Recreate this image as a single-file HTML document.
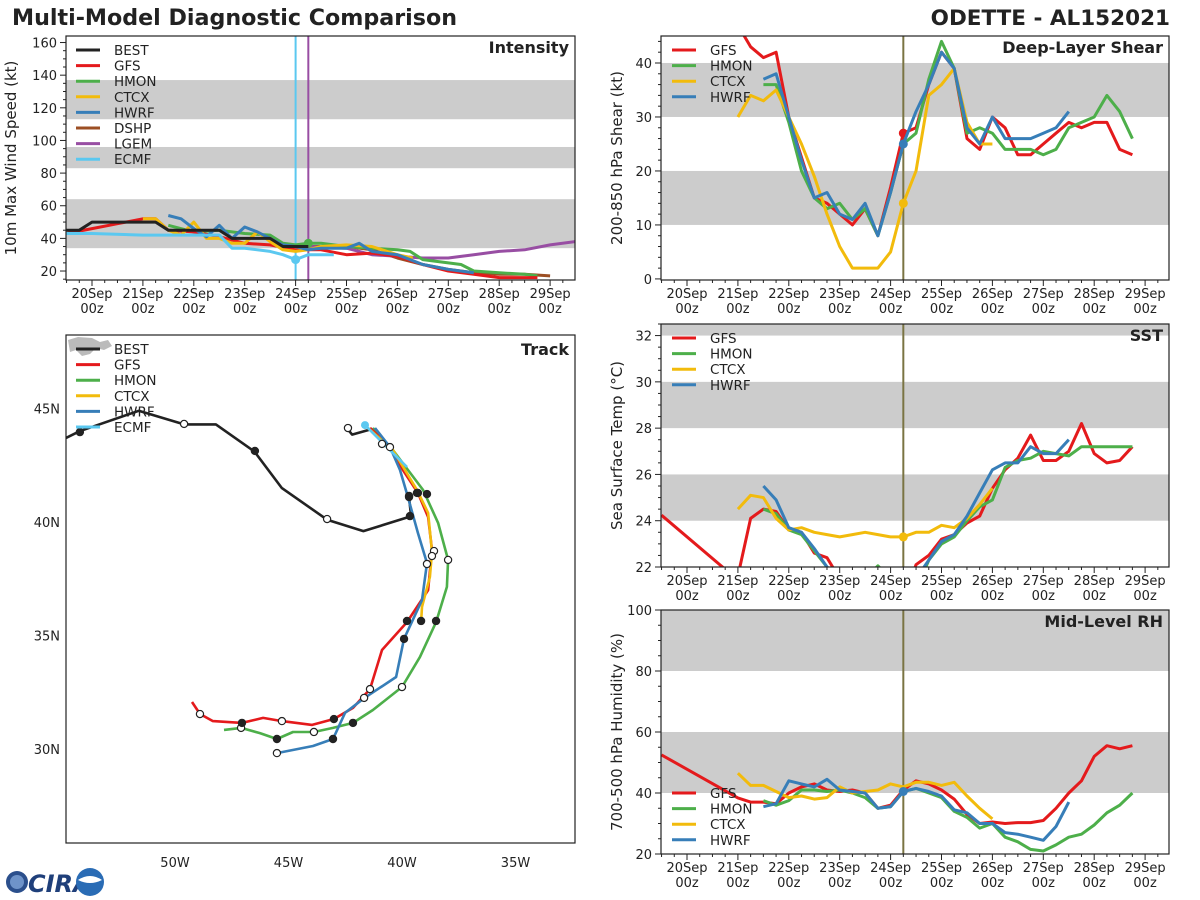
<!DOCTYPE html>
<html><head><meta charset="utf-8">
<style>
body{margin:0;background:#fff;}
svg{display:block;font-family:"DejaVu Sans","Liberation Sans",sans-serif;}
</style></head>
<body>
<svg id="c" width="1200" height="900" viewBox="0 0 1200 900" xmlns="http://www.w3.org/2000/svg">
<text x="12" y="25" font-size="22.2" font-weight="bold" fill="#222">Multi-Model Diagnostic Comparison</text>
<text x="1170" y="25" font-size="21.5" font-weight="bold" fill="#222" text-anchor="end">ODETTE - AL152021</text>
</svg>
<script>
const COL={BEST:'#222222',GFS:'#e41a1c',HMON:'#4daf4a',CTCX:'#f2bb0c',HWRF:'#377eb8',DSHP:'#9c4f24',LGEM:'#984ea3',ECMF:'#5bc8f0'};
const dayLabels=['20Sep','21Sep','22Sep','23Sep','24Sep','25Sep','26Sep','27Sep','28Sep','29Sep'];
// Intensity
const intBEST_t=[-0.5,-0.25,0,1.25,1.5,2.5,2.75,3.5,3.75,4.25];
const intBEST_v=[45,45,50,50,45,45,40,40,35,35];
const intGFS_t=[-0.5,0,0.5,1,1.25,1.5,2,2.5,3,3.5,4,4.5,5,5.5,6,6.5,7,7.5,8,8.75];
const intGFS_v=[43,46,49,52,52,45,44,41,37,36,33,33,30,31,29,24,20,18,16,16];
const intHMON_t=[1.5,2,2.5,3,3.5,3.75,4,4.25,4.5,5,5.5,6,6.25,6.5,7,7.25,7.5,8,8.5,8.75];
const intHMON_v=[48,44,45,43,42,37,36,37,37,35,34,33,32,27,25,24,20,19,18,17];
const intCTCX_t=[1,1.25,1.5,1.75,2,2.25,2.5,2.75,3,3.25,3.5,3.75,4,4.25,4.5,5,5.5,6,6.3];
const intCTCX_v=[52,52,45,42,50,40,40,37,37,44,38,33,32,33,35,36,35,30,28];
const intHWRF_t=[1.5,1.75,2,2.25,2.5,2.75,3,3.25,3.5,3.75,4,4.25,4.5,5,5.25,5.5,6,6.5,7,7.5];
const intHWRF_v=[54,52,46,41,48,40,47,44,40,36,35,33,34,34,37,32,30,24,21,19];
const intDSHP_t=[4.25,5,5.5,6,6.5,7,7.5,8,8.5,9];
const intDSHP_v=[35,35,33,28,24,21,19,18,18,17];
const intLGEM_t=[4.25,5,5.5,6,6.5,7,7.5,8,8.5,9,9.5];
const intLGEM_v=[35,34,30,29,28,28,30,32,33,36,38];
const intECMF_t=[-0.5,0,1,2,2.5,2.75,3,3.5,3.75,4,4.25,4.5,4.75];
const intECMF_v=[43,43,42,42,42,34,34,32,30,27,30,30,30];
// Shear
const shGFS_t=[-0.5,1,1.25,1.5,1.75,2,2.5,2.75,3,3.25,3.5,3.75,4,4.25,4.5,4.75,5,5.25,5.5,5.75,6,6.25,6.5,6.75,7,7.25,7.5,7.75,8,8.25,8.5,8.75];
const shGFS_v=[46,47,43,41,42,30,15,14,12,10,13,8,17,27,28,36,42,39,26,24,30,28,23,23,25,27,29,28,29,29,24,23];
const shHMON_t=[1.5,1.75,2,2.25,2.5,2.75,3,3.25,3.5,3.75,4,4.25,4.5,4.75,5,5.25,5.5,5.75,6,6.25,6.5,6.75,7,7.25,7.5,7.75,8,8.25,8.5,8.75];
const shHMON_v=[36,36,29,20,15,13,14,11,13,8,16,25,27,37,44,39,27,28,27,24,24,24,23,24,28,29,30,34,31,26];
const shCTCX_t=[1,1.25,1.5,1.75,2,2.25,2.5,2.75,3,3.25,3.5,3.75,4,4.25,4.5,4.75,5,5.25,5.5,5.75,6];
const shCTCX_v=[30,34,33,35,30,25,19,12,6,2,2,2,5,14,20,34,36,39,29,25,25];
const shHWRF_t=[1.5,1.75,2,2.25,2.5,2.75,3,3.25,3.5,3.75,4,4.25,4.5,4.75,5,5.25,5.5,5.75,6,6.25,6.5,6.75,7,7.25,7.5];
const shHWRF_v=[37,38,30,22,15,16,12,11,14,8,16,25,31,36,42,39,28,25,30,26,26,26,27,28,31];
// SST
const sstGFS_t=[-0.5,0.75,1,1.04,1.25,1.5,1.75,2,2.25,2.5,2.75,3,4.4,4.5,4.75,5,5.25,5.5,5.75,6,6.25,6.5,6.75,7,7.25,7.5,7.75,8,8.25,8.5,8.75];
const sstGFS_v=[24.24,21.9,21,22,24.1,24.5,24.4,23.6,23.5,22.6,22.4,21.5,21.5,22.1,22.5,23.2,23.4,23.9,24.2,25.4,26.2,26.7,27.7,26.6,26.6,27.0,28.2,26.9,26.5,26.6,27.2];
const sstHMON_t=[1.5,1.75,2,2.25,2.5,2.75,3,3.5,3.75,4,4.5,4.75,5,5.25,5.5,5.75,6,6.25,6.5,6.75,7,7.25,7.5,7.75,8,8.25,8.5,8.75];
const sstHMON_v=[24.5,24.3,23.6,23.4,22.7,22.0,21.5,21.5,22.05,21.5,21,22.3,23,23.3,24,24.6,24.9,26.3,26.6,26.7,27,26.9,26.8,27.2,27.2,27.2,27.2,27.2];
const sstCTCX_t=[1,1.25,1.5,1.75,2,2.25,2.5,2.75,3,3.25,3.5,3.75,4,4.25,4.5,4.75,5,5.25,5.5,5.75,6];
const sstCTCX_v=[24.5,25.1,25,24.1,23.6,23.7,23.5,23.4,23.3,23.4,23.5,23.4,23.3,23.3,23.5,23.5,23.8,23.7,24.1,24.7,25.4];
const sstHWRF_t=[1.5,1.75,2,2.25,2.5,2.75,3,4.5,4.75,5,5.25,5.5,5.75,6,6.25,6.5,6.75,7,7.25,7.5];
const sstHWRF_v=[25.5,24.9,23.7,23.5,22.8,22,21.5,21.5,22.3,23.1,23.4,24.2,25.2,26.2,26.5,26.5,27.2,26.9,26.9,27.5];
// RH
const rhGFS_t=[-0.5,1,1.25,1.5,1.75,2,2.25,2.5,2.75,3,3.25,3.5,3.75,4,4.25,4.5,4.75,5,5.25,5.5,5.75,6,6.25,6.5,6.75,7,7.25,7.5,7.75,8,8.25,8.5,8.75];
const rhGFS_v=[52.5,38.4,37,37,36.5,40,42,43,41,40.5,41,40,35,36,41,44,43,41,38,33,30,30.5,30,30.3,30.3,31,35,40,44,52,55.5,54.5,55.5];
const rhHMON_t=[1.5,1.75,2,2.25,2.5,2.75,3,3.25,3.5,3.75,4,4.25,4.5,4.75,5,5.25,5.5,5.75,6,6.25,6.5,6.75,7,7.25,7.5,7.75,8,8.25,8.5,8.75];
const rhHMON_v=[37.5,36,37.5,41,41,40.5,41,40,38.5,35,35.5,40.5,41.5,40,38.5,34,32,28.5,30,25.5,24,21.5,21,23,25.5,26.5,29.5,33.5,36,40];
const rhCTCX_t=[1,1.25,1.5,1.75,2,2.25,2.5,2.75,3,3.25,3.5,3.75,4,4.25,4.5,4.75,5,5.25,5.5,5.75,6];
const rhCTCX_v=[46.5,42.5,42.5,40.5,38.5,39,38,38.5,42,40,40.5,41,43,42,43.5,43.5,42.5,43.5,39,35,31.5];
const rhHWRF_t=[1.5,1.75,2,2.25,2.5,2.75,3,3.25,3.5,3.75,4,4.25,4.5,4.75,5,5.25,5.5,5.75,6,6.25,6.5,6.75,7,7.25,7.5];
const rhHWRF_v=[35.5,36.5,44,43,42,44.5,41,40.5,40,35,35.5,40.5,41.5,40.5,39,34.5,33.5,30,30,27,26.5,25.5,24.5,29,37];
// Track (lon, lat)
const trBEST_lon=[-54.8,-54.2,-51.6,-49.6,-48.2,-46.5,-45.3,-43.3,-41.7,-39.6,-39.7];
const trBEST_lat=[43.7,44.0,44.9,44.3,44.3,43.1,41.5,40.1,39.6,40.25,41.2];
const trBEST2_lon=[-42.4,-42.2,-41.3];
const trBEST2_lat=[44.1,43.85,44.1];
const trGFS_lon=[-41.41,-40.53,-39.96,-39.30,-38.85,-38.68,-38.85,-39.78,-40.88,-41.41,-42.16,-43.00,-43.96,-45.29,-46.12,-47.05,-48.33,-48.90,-49.25];
const trGFS_lat=[44.14,43.30,42.29,41.28,40.22,38.77,37.00,35.59,34.36,32.64,31.81,31.32,31.06,31.23,31.37,31.15,31.23,31.54,32.07];
const trHMON_lon=[-41.28,-40.40,-39.07,-38.41,-37.97,-38.02,-38.50,-39.21,-40.00,-41.28,-42.16,-43.04,-43.88,-44.80,-45.51,-46.26,-47.09,-47.84];
const trHMON_lat=[44.14,43.17,41.41,39.96,38.33,37.14,35.59,34.05,32.73,31.72,31.15,30.93,30.75,30.75,30.44,30.70,30.93,30.84];
const trCTCX_lon=[-41.50,-40.40,-39.34,-38.85,-38.68,-38.77,-39.12,-39.16];
const trCTCX_lat=[44.14,43.17,41.41,40.40,38.68,37.58,36.26,35.59];
const trHWRF_lon=[-41.19,-40.53,-40.09,-39.74,-39.30,-38.90,-39.12,-39.91,-40.26,-41.67,-42.51,-43.04,-43.92,-45.51];
const trHWRF_lat=[44.14,43.30,42.29,41.10,39.52,38.19,36.56,34.85,33.17,32.24,31.59,30.44,30.13,29.82];
const trECMF_lon=[-41.63,-39.78];
const trECMF_lat=[44.27,42.42];
// Track markers: lon, lat, filled(1)/open(0)
const dotBEST=[[-54.19,43.96,1],[-49.60,44.32,0],[-46.48,43.13,1],[-43.30,40.13,0],[-39.65,40.26,1],[-39.69,41.15,1],[-42.38,44.14,0]];
const dotGFS=[[-40.88,43.44,0],[-39.30,41.28,1],[-38.59,38.72,0],[-39.78,35.64,1],[-41.41,32.64,0],[-43.00,31.32,1],[-45.29,31.23,0],[-47.05,31.15,1],[-48.90,31.54,0]];
const dotHMON=[[-38.90,41.23,1],[-37.97,38.33,0],[-38.50,35.64,1],[-40.00,32.73,0],[-42.16,31.15,1],[-43.88,30.75,0],[-45.51,30.44,1],[-47.09,30.93,0]];
const dotCTCX=[[-39.34,41.28,1],[-38.68,38.50,0],[-39.16,35.64,1]];
const dotHWRF=[[-39.69,41.10,1],[-40.53,43.30,0],[-38.90,38.15,0],[-39.91,34.85,1],[-41.67,32.25,0],[-43.04,30.44,1],[-45.51,29.82,0]];

const NS='http://www.w3.org/2000/svg';
const svg=document.getElementById('c');
function mk(tag,attrs,parent){const e=document.createElementNS(NS,tag);for(const k in attrs)e.setAttribute(k,attrs[k]);(parent||svg).appendChild(e);return e;}
function txt(x,y,s,attrs,parent){const e=mk('text',Object.assign({x:x,y:y,fill:'#222','font-size':13},attrs||{}),parent);e.textContent=s;return e;}

function panel(cfg){
  const g=mk('g',{});
  
  
  const X=t=>cfg.x0+(t-cfg.t0)*cfg.pxDay;
  const Y=v=>cfg.bottom-(v-cfg.vmin)*(cfg.bottom-cfg.top)/(cfg.vmax-cfg.vmin);
  const clipId='clip'+cfg.name;
  const cp=mk('clipPath',{id:clipId},g);
  mk('rect',{x:cfg.left,y:cfg.top,width:cfg.right-cfg.left,height:cfg.bottom-cfg.top},cp);
  cfg.bands.forEach(b=>{
    const y1=Y(Math.min(b[1],cfg.vmax)),y2=Y(b[0]);
    const r=mk('rect',{x:cfg.left,y:y1,width:cfg.right-cfg.left,height:y2-y1,fill:'#cccccc'},g);
    
    
  });
  for(let t=-0.5;t<=9.5;t+=0.25){
    const x=X(t);if(x<cfg.left||x>cfg.right)continue;
    const major=Math.abs(t-Math.round(t))<1e-6;
    mk('line',{x1:x,x2:x,y1:cfg.bottom,y2:cfg.bottom+(major?6:3),stroke:'#222','stroke-width':1},g);
  }
  dayLabels.forEach((d,i)=>{
    const x=X(i);
    const a=txt(x,cfg.bottom+18,d,{'text-anchor':'middle'},g);
    
    txt(x,cfg.bottom+33,'00z',{'text-anchor':'middle'},g);
  });
  for(let v=cfg.vmin0;v<=cfg.vmax+1e-6;v+=cfg.minor){
    const y=Y(v);if(y<cfg.top-0.5)continue;
    const isMaj=Math.abs(v/cfg.major-Math.round(v/cfg.major))<1e-6;
    mk('line',{x1:cfg.left-(isMaj?6:3),x2:cfg.left,y1:y,y2:y,stroke:'#222','stroke-width':1},g);
    if(isMaj){const l=txt(cfg.left-9,y+5,String(v),{'text-anchor':'end'},g);}
  }
  const yt=txt(0,0,cfg.ylabel,{'font-size':15,'text-anchor':'middle',transform:`translate(${cfg.ylabelX},${(cfg.top+cfg.bottom)/2}) rotate(-90)`},g);
  
  const pt=txt(cfg.right-6,cfg.top+17,cfg.title,{'font-size':16,'font-weight':'bold','text-anchor':'end'},g);
  
  const sg=mk('g',{'clip-path':`url(#${clipId})`},g);
  cfg.vlines.forEach(v=>{
    const l=mk('line',{x1:X(v[0]),x2:X(v[0]),y1:cfg.top,y2:cfg.bottom,stroke:v[1],'stroke-width':2},sg);
    
  });
  cfg.series.forEach(s=>{
    const pts=s.t.map((t,i)=>X(t).toFixed(1)+','+Y(s.v[i]).toFixed(1)).join(' ');
    const p=mk('polyline',{points:pts,fill:'none',stroke:COL[s.k],'stroke-width':3,'stroke-linejoin':'round'},sg);
    
    
    if(s.dot!==undefined){
      const i=s.t.indexOf(s.dot);
      if(i>=0){const c=mk('circle',{cx:X(s.t[i]),cy:Y(s.v[i]),r:4.5,fill:COL[s.k]},sg);
        }
    }
  });
  mk('rect',{x:cfg.left,y:cfg.top,width:cfg.right-cfg.left,height:cfg.bottom-cfg.top,fill:'none',stroke:'#222','stroke-width':1.2},g);
  legend(g,cfg.legX,cfg.legY,cfg.legend);
}
function legend(g,x,y,keys){
  const lg=mk('g',{},g);
  
  keys.forEach((k,i)=>{
    const yy=y+i*15.6;
    const e=mk('g',{},lg);
    
    
    mk('line',{x1:x,x2:x+24,y1:yy,y2:yy,stroke:COL[k],'stroke-width':3},e);
    txt(x+38,yy+5,k,{'font-size':13.5},e);
  });
}
const rx0=687,lx0=92,pxd=50.9;
panel({name:'intensity-panel',left:66,right:575,top:36,bottom:280,x0:lx0,t0:0,pxDay:pxd,vmin:14.5,vmax:164,vmin0:15,minor:5,major:20,
  bands:[[34,64],[83,96],[113,137]],ylabel:'10m Max Wind Speed (kt)',ylabelX:16,title:'Intensity',
  vlines:[[4,'#5bc8f0'],[4.25,'#984ea3']],legX:76,legY:50,legend:['BEST','GFS','HMON','CTCX','HWRF','DSHP','LGEM','ECMF'],
  series:[{k:'DSHP',t:intDSHP_t,v:intDSHP_v},{k:'LGEM',t:intLGEM_t,v:intLGEM_v,dot:4.25},{k:'HMON',t:intHMON_t,v:intHMON_v,dot:4.25},{k:'GFS',t:intGFS_t,v:intGFS_v},{k:'CTCX',t:intCTCX_t,v:intCTCX_v},{k:'HWRF',t:intHWRF_t,v:intHWRF_v},{k:'ECMF',t:intECMF_t,v:intECMF_v,dot:4},{k:'BEST',t:intBEST_t,v:intBEST_v}]});
panel({name:'shear-panel',left:661,right:1169,top:36,bottom:280,x0:rx0,t0:0,pxDay:pxd,vmin:-0.2,vmax:45,vmin0:0,minor:2,major:10,
  bands:[[10,20],[30,40]],ylabel:'200-850 hPa Shear (kt)',ylabelX:622,title:'Deep-Layer Shear',
  vlines:[[4.25,'#7a7443']],legX:672,legY:50,legend:['GFS','HMON','CTCX','HWRF'],
  series:[{k:'GFS',t:shGFS_t,v:shGFS_v,dot:4.25},{k:'HMON',t:shHMON_t,v:shHMON_v},{k:'CTCX',t:shCTCX_t,v:shCTCX_v,dot:4.25},{k:'HWRF',t:shHWRF_t,v:shHWRF_v,dot:4.25}]});
panel({name:'sst-panel',left:661,right:1169,top:324,bottom:567,x0:rx0,t0:0,pxDay:pxd,vmin:22,vmax:32.5,vmin0:22,minor:0.5,major:2,
  bands:[[24,26],[28,30],[32,33]],ylabel:'Sea Surface Temp (°C)',ylabelX:622,title:'SST',
  vlines:[[4.25,'#7a7443']],legX:672,legY:338,legend:['GFS','HMON','CTCX','HWRF'],
  series:[{k:'GFS',t:sstGFS_t,v:sstGFS_v},{k:'HMON',t:sstHMON_t,v:sstHMON_v},{k:'CTCX',t:sstCTCX_t,v:sstCTCX_v,dot:4.25},{k:'HWRF',t:sstHWRF_t,v:sstHWRF_v}]});
panel({name:'rh-panel',left:661,right:1169,top:610,bottom:854,x0:rx0,t0:0,pxDay:pxd,vmin:20,vmax:100,vmin0:20,minor:5,major:20,
  bands:[[40,60],[80,100]],ylabel:'700-500 hPa Humidity (%)',ylabelX:622,title:'Mid-Level RH',
  vlines:[[4.25,'#7a7443']],legX:672,legY:793,legend:['GFS','HMON','CTCX','HWRF'],
  series:[{k:'GFS',t:rhGFS_t,v:rhGFS_v},{k:'HMON',t:rhHMON_t,v:rhHMON_v},{k:'CTCX',t:rhCTCX_t,v:rhCTCX_v},{k:'HWRF',t:rhHWRF_t,v:rhHWRF_v,dot:4.25}]});

(function(){
  const L=66,R=575,T=335,B=843;
  const g=mk('g',{});
  
  const LX=lon=>402+(lon+40)*22.7, LY=lat=>749-(lat-30)*22.7;
  const cp=mk('clipPath',{id:'cliptrack'},g);mk('rect',{x:L,y:T,width:R-L,height:B-T},cp);
  const sg=mk('g',{'clip-path':'url(#cliptrack)'},g);
  const land=mk('path',{d:'M68,340 L78,337 L92,338 L100,342 L108,340 L112,346 L104,350 L96,348 L90,354 L82,356 L76,350 L70,352 Z',fill:'#bbbbbb'},sg);
  
  [-50,-45,-40,-35].forEach(lon=>{
    const l=txt(LX(lon),B+24,(-lon)+'W',{'text-anchor':'middle'},g);
    
  });
  [30,35,40,45].forEach(lat=>{
    const l=txt(L-6,LY(lat)+5,lat+'N',{'text-anchor':'end'},g);
    
  });
  const tracks=[['BEST',trBEST_lon,trBEST_lat],['BEST',trBEST2_lon,trBEST2_lat],['HMON',trHMON_lon,trHMON_lat],['GFS',trGFS_lon,trGFS_lat],['CTCX',trCTCX_lon,trCTCX_lat],['HWRF',trHWRF_lon,trHWRF_lat],['ECMF',trECMF_lon,trECMF_lat]];
  tracks.forEach(tr=>{
    const p=mk('polyline',{points:tr[1].map((lo,i)=>LX(lo).toFixed(1)+','+LY(tr[2][i]).toFixed(1)).join(' '),fill:'none',stroke:COL[tr[0]],'stroke-width':2.6,'stroke-linejoin':'round'},sg);
    
    
  });
  [dotBEST,dotHMON,dotGFS,dotCTCX,dotHWRF].forEach(ds=>ds.forEach(d=>{
    const c=mk('circle',{cx:LX(d[0]),cy:LY(d[1]),r:3.6,fill:d[2]?'#222':'#fff',stroke:'#222','stroke-width':1.2},sg);
    
    
  }));
  const c0=mk('circle',{cx:LX(trECMF_lon[0]),cy:LY(trECMF_lat[0]),r:4,fill:COL.ECMF},sg);
  
  mk('rect',{x:L,y:T,width:R-L,height:B-T,fill:'none',stroke:'#222','stroke-width':1.2},g);
  const pt=txt(R-6,T+20,'Track',{'font-size':16,'font-weight':'bold','text-anchor':'end'},g);
  
  legend(g,76,349,['BEST','GFS','HMON','CTCX','HWRF','ECMF']);
})();
(function(){
  const g=mk('g',{});
  
  mk('circle',{cx:17,cy:882,r:11,fill:'#2b4f8c'},g);
  mk('circle',{cx:17,cy:882,r:7,fill:'#6e93c9'},g);
  txt(28,892,'CIRA',{'font-size':24,'font-weight':'bold',fill:'#1f3f7a','font-style':'italic'},g);
  mk('circle',{cx:90,cy:882,r:14,fill:'#2a6cb5'},g);
  mk('path',{d:'M78,880 Q90,872 102,880 Q90,886 78,880 Z',fill:'#ffffff'},g);
})();
</script>
</body></html>
